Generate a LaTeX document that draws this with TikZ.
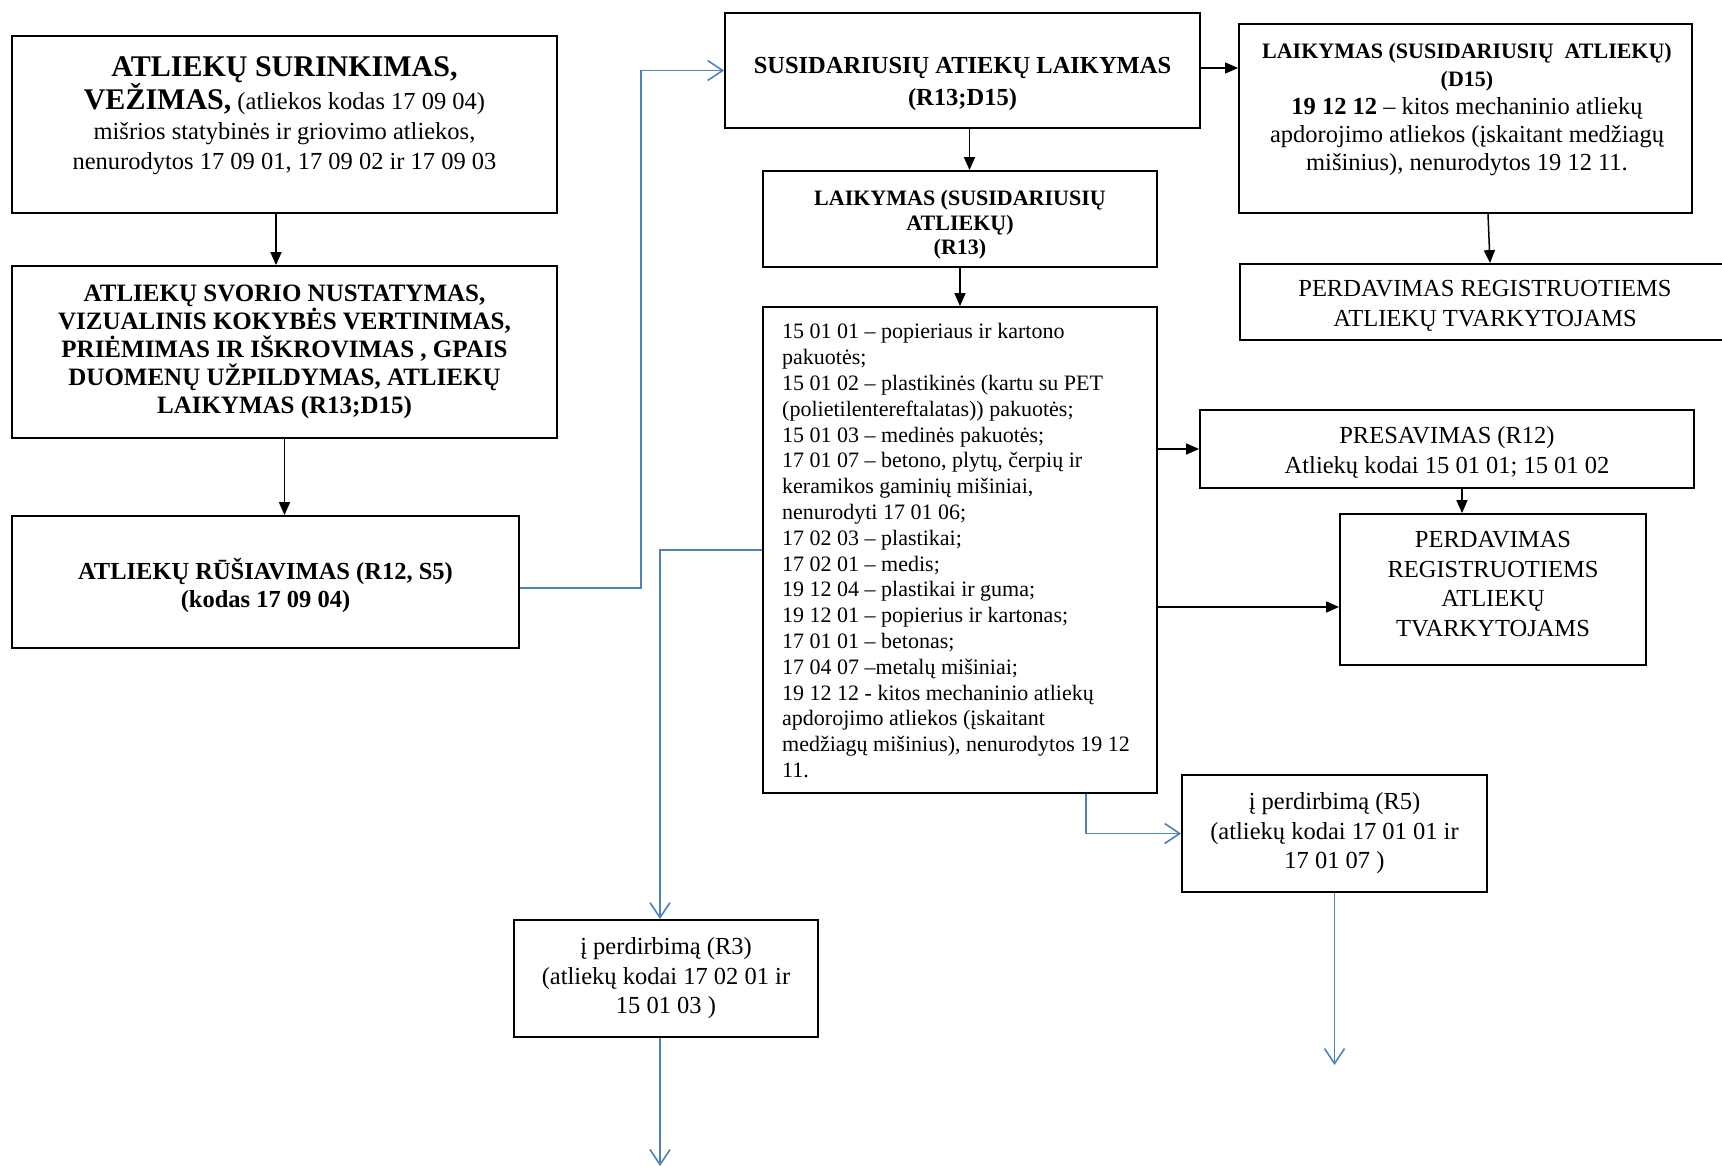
\documentclass[tikz,border=0pt]{standalone}
\usepackage{fontspec}
\setmainfont{Liberation Serif}
\usetikzlibrary{arrows.meta,calc}
\definecolor{flowblue}{RGB}{79,129,189}
\begin{document}
\begin{tikzpicture}[x=1pt,y=-1pt,
  blk/.style={draw, line width=1.8pt, inner sep=0pt, align=center},
  txt/.style={inner sep=0pt, align=center},
  flow/.style={line width=1.5pt, -{Triangle[length=13pt,width=11pt]}},
  bflow/.style={line width=1.6pt, draw=flowblue, -{Straight Barb[length=15pt,width=20pt]}},
  plain/.style={font=\fontsize{24.5}{29.5}\selectfont},
  heavy/.style={font=\fontsize{25}{28}\selectfont\bfseries}]

\fill[white] (0,0) rectangle (1722,1167);
\useasboundingbox (0,0) rectangle (1722,1167);

% ---- left column ----
\node[blk, minimum width=545pt, minimum height=177pt] (A) at (284.5,124.5) {};
\node[txt, font=\fontsize{24.5}{30}\selectfont] (At) at (284.5,116) {%
  {\fontsize{30}{35}\selectfont\bfseries ATLIEKŲ SURINKIMAS,}\\
  {\fontsize{30}{35}\selectfont\bfseries VEŽIMAS,} (atliekos kodas 17 09 04)\\
  mišrios statybinės ir griovimo atliekos,\\
  nenurodytos 17 09 01, 17 09 02 ir 17 09 03};

\node[blk, heavy, minimum width=545pt, minimum height=172pt] (B) at (284.5,352) {%
  ATLIEKŲ SVORIO NUSTATYMAS,\\
  VIZUALINIS KOKYBĖS VERTINIMAS,\\
  PRIĖMIMAS IR IŠKROVIMAS , GPAIS\\
  DUOMENŲ UŽPILDYMAS, ATLIEKŲ\\
  LAIKYMAS (R13;D15)};

\node[blk, minimum width=507pt, minimum height=132pt] (C) at (265.5,582) {};
\node[txt, font=\fontsize{24.5}{28}\selectfont\bfseries] (Ct) at (265.5,585.5) {%
  ATLIEKŲ RŪŠIAVIMAS (R12, S5)\\
  (kodas 17 09 04)};

% ---- middle column ----
\node[blk, minimum width=475pt, minimum height=115pt] (D) at (962.5,70.5) {};
\node[txt, font=\fontsize{24.5}{32}\selectfont\bfseries] (Dt) at (962.5,84) {%
  SUSIDARIUSIŲ ATIEKŲ LAIKYMAS\\
  (R13;D15)};

\node[blk, minimum width=394pt, minimum height=96pt] (E) at (960,219) {};
\node[txt, font=\fontsize{22}{24.5}\selectfont\bfseries] (Et) at (960,225) {%
  LAIKYMAS (SUSIDARIUSIŲ\\
  ATLIEKŲ)\\
  (R13)};

\node[blk, minimum width=394pt, minimum height=486pt] (F) at (960,550) {};
\node[txt, align=left, anchor=north west, font=\fontsize{22}{25.8}\selectfont] (Ft) at (782,323.5) {%
  15 01 01 – popieriaus ir kartono\\
  pakuotės;\\
  15 01 02 – plastikinės (kartu su PET\\
  (polietilentereftalatas)) pakuotės;\\
  15 01 03 – medinės pakuotės;\\
  17 01 07 – betono, plytų, čerpių ir\\
  keramikos gaminių mišiniai,\\
  nenurodyti 17 01 06;\\
  17 02 03 – plastikai;\\
  17 02 01 – medis;\\
  19 12 04 – plastikai ir guma;\\
  19 12 01 – popierius ir kartonas;\\
  17 01 01 – betonas;\\
  17 04 07 –metalų mišiniai;\\
  19 12 12 - kitos mechaninio atliekų\\
  apdorojimo atliekos (įskaitant\\
  medžiagų mišinius), nenurodytos 19 12\\
  11.};

\node[blk, plain, minimum width=304pt, minimum height=117pt] (L) at (666,978.5) {%
  į perdirbimą (R3)\\
  (atliekų kodai 17 02 01 ir\\
  15 01 03 )};

% ---- right column ----
\node[blk, minimum width=453pt, minimum height=189pt] (G) at (1465.5,118.5) {};
\node[txt, font=\fontsize{24.5}{28}\selectfont] (Gt) at (1467,110) {%
  {\fontsize{22}{27}\selectfont\bfseries LAIKYMAS (SUSIDARIUSIŲ\ \ ATLIEKŲ)}\\
  {\fontsize{22}{27}\selectfont\bfseries (D15)}\\
  \textbf{19 12 12} – kitos mechaninio atliekų\\
  apdorojimo atliekos (įskaitant medžiagų\\
  mišinius), nenurodytos 19 12 11.};

\node[blk, minimum width=490pt, minimum height=76pt] (H) at (1485,302) {};
\node[txt, plain] (Ht) at (1485,306) {%
  PERDAVIMAS REGISTRUOTIEMS\\
  ATLIEKŲ TVARKYTOJAMS};

\node[blk, minimum width=494pt, minimum height=78pt] (I) at (1447,449) {};
\node[txt, plain] (It) at (1447,452.5) {%
  PRESAVIMAS (R12)\\
  Atliekų kodai 15 01 01; 15 01 02};

\node[blk, minimum width=306pt, minimum height=151pt] (J) at (1493,589.5) {};
\node[txt, plain] (Jt) at (1493,584) {%
  PERDAVIMAS\\
  REGISTRUOTIEMS\\
  ATLIEKŲ\\
  TVARKYTOJAMS};

\node[blk, plain, minimum width=305pt, minimum height=117pt] (K) at (1334.5,833.5) {%
  į perdirbimą (R5)\\
  (atliekų kodai 17 01 01 ir\\
  17 01 07 )};

% ---- free ends and bends ----
\coordinate (cd) at ($(D.west)+(-83,0)$);
\coordinate (jin) at ($(J.west)+(0,17.5)$);
\coordinate (kout) at (1334.5,1065);
\coordinate (lout) at (660,1166);

% ---- black connectors ----
\draw[flow] ([xshift=-8.5pt]A.south) -- ([xshift=-8.5pt]A.south |- B.north);
\draw[flow] (B.south) -- (B.south |- C.north);
\draw[flow] ([yshift=2.5pt]D.east) -- ([yshift=2.5pt]D.east -| G.west);
\draw[flow] ([xshift=7pt]D.south) -- ([xshift=7pt]D.south |- E.north);
\draw[flow] (E.south) -- (E.south |- F.north);
\draw[flow] ([xshift=22.5pt]G.south) -- ([xshift=5pt]H.north);
\draw[flow] (F.east |- I.west) -- (I.west);
\draw[flow] ([xshift=15pt]I.south) -- ([xshift=15pt]I.south |- J.north);
\draw[flow] (F.east |- jin) -- (jin);

% ---- blue connectors ----
\draw[bflow] ([yshift=-6pt]C.east) -| (cd) -- (D.west);
\draw[bflow] (F.west) -| ([xshift=-6pt]L.north);
\draw[bflow] ([xshift=126pt]F.south) |- (K.west);
\draw[bflow] (K.south) -- (kout);
\draw[bflow] ([xshift=-6pt]L.south) -- (lout);
\end{tikzpicture}
\end{document}
